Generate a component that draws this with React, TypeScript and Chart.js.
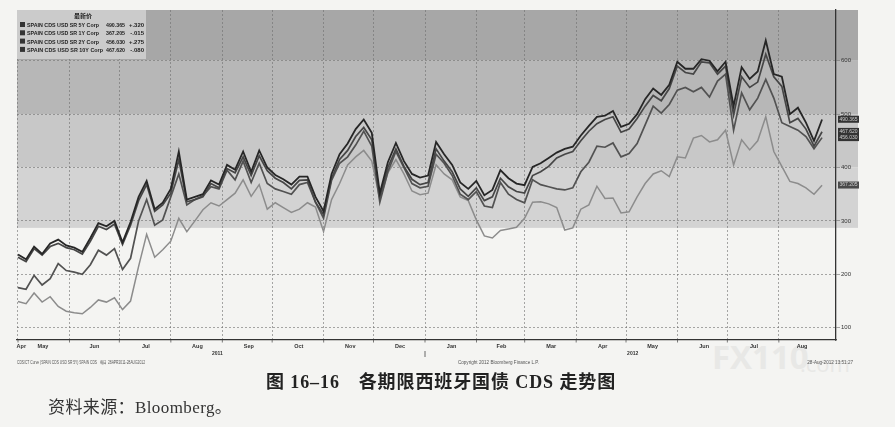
import { useEffect, useRef } from "react";
import { Chart, registerables } from "chart.js";

Chart.register(...registerables);

// sampling: one value every STEP_DAYS days, starting 1 May 2011 (day 0)
const STEP_DAYS = 4.84;

const SPAIN_5Y = [
  237, 228, 252, 238, 258, 265, 254, 250, 242, 268,
  296, 290, 300, 260, 298, 345, 375, 322, 334, 360,
  430, 340, 345, 350, 376, 368, 405, 396, 430, 392,
  432, 400, 386, 378, 368, 383, 383, 345, 318, 388,
  425, 445, 472, 490, 465, 352, 410, 446, 412, 388,
  381, 385, 448, 425, 405, 372, 360, 375, 348, 358,
  395, 380, 370, 367, 401, 408, 418, 428, 435, 439,
  460, 478, 495, 497, 506, 476, 482, 500, 528, 548,
  536, 555, 598, 585, 585, 603, 600, 580, 598, 515,
  588, 566, 580, 638, 575, 570, 500, 512, 484, 450,
  490,
];

const SPAIN_10Y = [
  232, 224, 248, 236, 252, 258, 250, 246, 238, 262,
  290, 284, 294, 256, 292, 338, 368, 318, 330, 352,
  415, 336, 340, 345, 370, 362, 398, 390, 420, 385,
  422, 394, 380, 372, 360, 376, 377, 335, 312, 380,
  415, 432, 458, 475, 452, 345, 400, 435, 402, 378,
  368, 372, 435, 412, 392, 360, 346, 362, 338, 345,
  380, 364, 355, 352, 385, 392, 402, 418, 425, 430,
  450, 468, 482, 490, 495, 466, 472, 492, 515, 535,
  525, 548, 590, 578, 575, 598, 596, 575, 590, 498,
  570, 550, 560, 612, 570, 552, 484, 492, 472, 440,
  467,
];

const SPAIN_2Y = [
  175, 172, 198, 180, 192, 220, 207, 204, 200, 218,
  245, 236, 248, 209, 230, 300, 340, 292, 302, 345,
  388, 330, 340, 347, 364, 360, 395, 377, 412, 372,
  408, 370, 360, 355, 350, 368, 372, 335, 305, 376,
  408, 420, 442, 468, 440, 335, 392, 430, 400, 370,
  362, 365, 425, 408, 385, 350, 340, 355, 328, 325,
  372, 350, 340, 334, 377, 368, 364, 360, 358, 362,
  392, 410, 440, 438, 446, 420, 426, 445, 480, 515,
  502, 518, 545, 550, 542, 550, 532, 562, 575, 470,
  540, 508, 530, 565, 530, 484, 477, 470, 458, 435,
  456,
];

const SPAIN_1Y = [
  149, 145, 165, 148, 158, 140, 131, 128, 126, 138,
  152, 148, 156, 134, 150, 215, 275, 232, 246, 262,
  305, 280, 300, 321, 334, 328, 340, 352, 377, 346,
  368, 322, 334, 325, 316, 322, 334, 326, 280, 340,
  370, 405, 420, 432, 412, 340, 390, 415, 388, 356,
  349, 352, 405, 388, 377, 345, 338, 302, 272, 268,
  282, 285, 288, 305, 335, 336, 332, 325, 283, 287,
  322, 330, 365, 342, 343, 315, 317, 345, 370, 388,
  394, 383, 420, 418, 455, 460, 448, 452, 470, 405,
  452, 433, 450, 495, 430, 402, 374, 370, 362, 350,
  367,
];

const SERIES_NAMES = [
  "SPAIN CDS USD SR 5Y Corp",
  "SPAIN CDS USD SR 1Y Corp",
  "SPAIN CDS USD SR 2Y Corp",
  "SPAIN CDS USD SR 10Y Corp",
];
const LAST_PRICES = ["490.365", "367.205", "456.030", "467.620"];
const CHANGES = ["+.320", "-.015", "+.275", "-.080"];
const LEGEND_TITLE = "最新价";

const MONTH_LABELS = ["Apr", "May", "Jun", "Jul", "Aug", "Sep", "Oct", "Nov", "Dec", "Jan", "Feb", "Mar", "Apr", "May", "Jun", "Jul", "Aug"];
const MONTH_LABEL_DAYS = [2, 15, 46, 77, 108, 139, 169, 200, 230, 261, 291, 321, 352, 382, 413, 443, 472];
const MONTH_START_DAYS = [0, 31, 61, 92, 123, 153, 184, 214, 245, 276, 305, 336, 366, 397, 427, 458];
const YEAR_LABELS = ["2011", "2012"];
const YEAR_LABEL_DAYS = [120, 370];
const Y_TICKS = [100, 200, 300, 400, 500, 600];

const BAND_LIMITS = [695, 600, 500, 400, 287];
const BAND_COLORS = ["#a7a7a7", "#b7b7b7", "#c8c8c8", "#d3d3d3"];

const FOOT_LEFT = "CDS/CT Curve (SPAIN CDS USD SR 5Y) SPAIN CDS   每日 28APR2011-28AUG2012";
const FOOT_MID = "Copyright 2012 Bloomberg Finance L.P.";
const FOOT_RIGHT = "28-Aug-2012 13:51:27";

const SERIES = [
  { data: SPAIN_5Y, color: "#262626", width: 1.8, order: 0, idx: 0 },
  { data: SPAIN_10Y, color: "#464646", width: 1.7, order: 1, idx: 3 },
  { data: SPAIN_2Y, color: "#525252", width: 1.7, order: 2, idx: 2 },
  { data: SPAIN_1Y, color: "#8c8c8c", width: 1.5, order: 3, idx: 1 },
];

const SMALL = "'Liberation Sans', Arial, sans-serif";

const decor = {
  id: "decor",
  beforeDraw(chart: any) {
    const { ctx, chartArea, scales } = chart;
    const y = scales.y;
    ctx.save();
    for (let i = 0; i < BAND_COLORS.length; i++) {
      const t = y.getPixelForValue(BAND_LIMITS[i]);
      const b = y.getPixelForValue(BAND_LIMITS[i + 1]);
      ctx.fillStyle = BAND_COLORS[i];
      ctx.fillRect(chartArea.left, t, chartArea.right - chartArea.left + 22, b - t);
    }
    ctx.restore();
  },
  afterDraw(chart: any) {
    const { ctx, chartArea, scales } = chart;
    const y = scales.y;
    const x = scales.x;
    ctx.save();
    // legend box
    const lx = chartArea.left;
    const ly = chartArea.top;
    ctx.fillStyle = "#cbcbcb";
    ctx.fillRect(lx, ly, 129, 49);
    ctx.fillStyle = "#222";
    ctx.textBaseline = "alphabetic";
    ctx.font = "bold 6px 'Noto Sans CJK SC', sans-serif";
    ctx.textAlign = "center";
    ctx.fillText(LEGEND_TITLE, lx + 66, ly + 8);
    ctx.font = "bold 6px " + SMALL;
    for (let k = 0; k < SERIES_NAMES.length; k++) {
      const ry = ly + 17 + k * 8.3;
      ctx.fillStyle = "#333";
      ctx.fillRect(lx + 3, ry - 5, 5, 5);
      ctx.fillStyle = "#222";
      ctx.textAlign = "left";
      ctx.fillText(SERIES_NAMES[k], lx + 10, ry, k === 3 ? 76 : 72);
      ctx.textAlign = "right";
      ctx.fillText(LAST_PRICES[k], lx + 108, ry, 19);
      ctx.fillText(CHANGES[k], lx + 127, ry, 15);
    }
    // last value boxes on the right axis
    ctx.font = "5px " + SMALL;
    ctx.textAlign = "center";
    ctx.textBaseline = "middle";
    const boxOrder = [1, 2, 3, 0];
    for (const k of boxOrder) {
      const py = y.getPixelForValue(parseFloat(LAST_PRICES[k]));
      ctx.fillStyle = k === 1 ? "#4a4a4a" : "#333";
      ctx.fillRect(chartArea.right + 2, py - 3.5, 21, 7);
      ctx.fillStyle = "#cfcfcf";
      ctx.fillText(LAST_PRICES[k], chartArea.right + 12.5, py, 19);
    }
    // month labels
    ctx.textBaseline = "alphabetic";
    ctx.fillStyle = "#333";
    ctx.font = "bold 5.5px " + SMALL;
    ctx.textAlign = "center";
    for (let k = 0; k < MONTH_LABELS.length; k++) {
      ctx.fillText(MONTH_LABELS[k], x.getPixelForValue(MONTH_LABEL_DAYS[k]), chartArea.bottom + 7.5);
    }
    // year labels
    ctx.font = "bold 5px " + SMALL;
    for (let k = 0; k < YEAR_LABELS.length; k++) {
      ctx.fillText(YEAR_LABELS[k], x.getPixelForValue(YEAR_LABEL_DAYS[k]), chartArea.bottom + 15);
    }
    // small month ticks under the axis
    ctx.strokeStyle = "#444";
    ctx.lineWidth = 0.7;
    ctx.beginPath();
    for (const d of MONTH_START_DAYS) {
      const px = x.getPixelForValue(d);
      ctx.moveTo(px, chartArea.bottom);
      ctx.lineTo(px, chartArea.bottom + 2.5);
    }
    ctx.stroke();
    // year separator
    const sx = x.getPixelForValue(MONTH_START_DAYS[8]);
    ctx.lineWidth = 0.8;
    ctx.beginPath();
    ctx.moveTo(sx, chartArea.bottom + 11);
    ctx.lineTo(sx, chartArea.bottom + 17);
    ctx.stroke();
    // footnotes
    ctx.fillStyle = "#555";
    ctx.font = "4.6px " + SMALL;
    ctx.textAlign = "left";
    ctx.fillText(FOOT_LEFT, chartArea.left, chartArea.bottom + 24, 128);
    ctx.textAlign = "center";
    ctx.fillText(FOOT_MID, x.getPixelForValue(MONTH_START_DAYS[9]) + 22, chartArea.bottom + 24, 86);
    ctx.textAlign = "right";
    ctx.fillText(FOOT_RIGHT, chartArea.right + 17, chartArea.bottom + 24, 47);
    ctx.restore();
  },
};

export default function App() {
  const ref = useRef<HTMLCanvasElement>(null);
  useEffect(() => {
    if (!ref.current) return;
    const datasets = SERIES.map((s) => ({
      label: SERIES_NAMES[s.idx],
      data: s.data.map((v, i) => ({ x: i * STEP_DAYS, y: v })),
      borderColor: s.color,
      borderWidth: s.width,
      pointRadius: 0,
      tension: 0,
      fill: false,
      order: s.order,
    }));
    const chart = new Chart(ref.current, {
      type: "line",
      data: { datasets },
      options: {
        responsive: false,
        animation: false,
        layout: { padding: { left: 17, top: 10, right: 37, bottom: 75 } },
        plugins: { legend: { display: false }, tooltip: { enabled: false } },
        scales: {
          x: {
            type: "linear",
            position: "bottom",
            min: -0.6,
            max: 492.4,
            afterBuildTicks: (ax: any) => {
              ax.ticks = MONTH_START_DAYS.map((v) => ({ value: v }));
            },
            afterFit: (ax: any) => {
              ax.height = 12;
            },
            ticks: { display: false },
            grid: { color: "#6e6e6e", lineWidth: 0.6, drawTicks: false },
            border: { display: true, color: "#333", width: 1.3, dash: [2, 2] },
          },
          y: {
            type: "linear",
            position: "right",
            min: 77,
            max: 695,
            afterBuildTicks: (ax: any) => {
              ax.ticks = Y_TICKS.map((v) => ({ value: v }));
            },
            afterFit: (ax: any) => {
              ax.width = 22;
            },
            ticks: {
              padding: 1,
              color: "#333",
              font: { size: 6, family: SMALL },
              callback: (v: any) => String(v),
            },
            grid: { color: "#6e6e6e", lineWidth: 0.6, tickLength: 4 },
            border: { display: true, color: "#333", width: 1.3, dash: [2, 2] },
          },
        },
      } as any,
      plugins: [decor],
    });
    return () => chart.destroy();
  }, []);

  return (
    <div
      style={{
        position: "absolute",
        left: 0,
        top: 0,
        width: 895,
        height: 427,
        background: "#f4f4f2",
        overflow: "hidden",
      }}
    >
      <div
        style={{
          position: "absolute",
          left: 712,
          top: 340,
          fontFamily: "'Open Sans', 'DejaVu Sans', sans-serif",
          fontWeight: 700,
          fontSize: 33,
          color: "#e8e8e6",
          lineHeight: 1,
        }}
      >
        FX110
      </div>
      <div
        style={{
          position: "absolute",
          left: 800,
          top: 352,
          fontFamily: "'Open Sans', 'DejaVu Sans', sans-serif",
          fontSize: 22,
          color: "#e8e8e6",
          lineHeight: 1,
        }}
      >
        .com
      </div>
      <canvas
        ref={ref}
        width={895}
        height={427}
        style={{ position: "absolute", left: 0, top: 0, width: 895, height: 427 }}
      />
      <div
        style={{
          position: "absolute",
          left: 266,
          top: 373,
          fontFamily: "'Liberation Serif', 'Noto Sans CJK SC', serif",
          fontWeight: 700,
          fontSize: 18,
          letterSpacing: "0.9px",
          color: "#222",
          whiteSpace: "pre",
          lineHeight: 1,
        }}
      >
        {"图 16–16　各期限西班牙国债 CDS 走势图"}
      </div>
      <div
        style={{
          position: "absolute",
          left: 48,
          top: 399,
          fontFamily: "'Liberation Serif', 'Noto Sans CJK SC', serif",
          fontSize: 17,
          letterSpacing: "0.4px",
          color: "#333",
          whiteSpace: "pre",
          lineHeight: 1,
        }}
      >
        {"资料来源：Bloomberg。"}
      </div>
    </div>
  );
}
